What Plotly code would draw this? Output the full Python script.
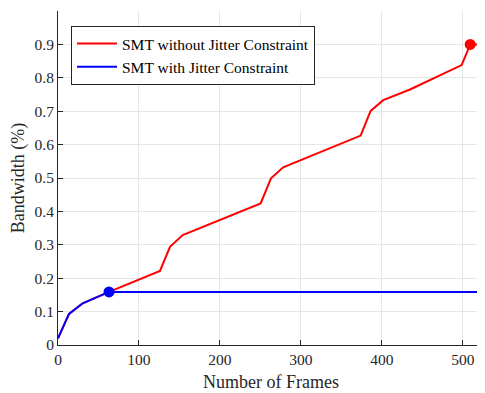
import plotly.graph_objects as go

red_x = [0, 13.6, 30.5, 63, 125.9, 138.3, 154, 250.2, 263, 278, 373.7, 386, 401.6, 434.6, 498.4, 509, 526]
red_y = [0.02, 0.093, 0.125, 0.159, 0.2216, 0.294, 0.329, 0.424, 0.499, 0.532, 0.627, 0.701, 0.733, 0.765, 0.838, 0.9, 0.9]
blue_x = [0, 13.6, 30.5, 63, 526]
blue_y = [0.02, 0.093, 0.125, 0.159, 0.159]
red_marker = [509, 0.9]
blue_marker = [63, 0.159]

xticks = [0, 100, 200, 300, 400, 500]
yticks = [0, 0.1, 0.2, 0.3, 0.4, 0.5, 0.6, 0.7, 0.8, 0.9, 1]
ytick_labels = ["0", "0.1", "0.2", "0.3", "0.4", "0.5", "0.6", "0.7", "0.8", "0.9", "1"]

fig = go.Figure()
fig.add_trace(go.Scatter(x=red_x, y=red_y, mode="lines", line=dict(color="#ff0000", width=2),
                         name="SMT without Jitter Constraint"))
fig.add_trace(go.Scatter(x=blue_x, y=blue_y, mode="lines", line=dict(color="#0000ff", width=2),
                         name="SMT with Jitter Constraint"))
fig.add_trace(go.Scatter(x=[red_marker[0]], y=[red_marker[1]], mode="markers",
                         marker=dict(color="#ff0000", size=11), showlegend=False))
fig.add_trace(go.Scatter(x=[blue_marker[0]], y=[blue_marker[1]], mode="markers",
                         marker=dict(color="#0000ff", size=11), showlegend=False))

font = "Liberation Serif"
fig.update_layout(
    width=477, height=385,
    margin=dict(l=50, r=1, t=3, b=48),
    plot_bgcolor="white", paper_bgcolor="white",
    font=dict(family=font, size=15, color="#262626"),
    legend=dict(x=0.0305, y=0.955, xanchor="left", yanchor="top",
                bgcolor="white", bordercolor="#262626", borderwidth=1,
                font=dict(family=font, size=15.5, color="#000000"),
                tracegroupgap=0, itemwidth=40),
    xaxis=dict(range=[0, 526], tickvals=xticks, showgrid=True, gridcolor="#e6e6e6",
               zeroline=False, showline=True, linecolor="#262626", linewidth=1,
               ticks="inside", ticklen=5, tickcolor="#262626", automargin=False,
               title=dict(text="Number of Frames", standoff=8), tickfont=dict(size=15.5)),
    yaxis=dict(range=[0, 1], tickvals=yticks, ticktext=ytick_labels, showgrid=True,
               gridcolor="#e6e6e6", zeroline=False, showline=True, linecolor="#262626",
               linewidth=1, ticks="inside", ticklen=5, tickcolor="#262626", automargin=False,
               title=dict(text="Bandwidth (%)", standoff=6), tickfont=dict(size=15.5)),
)
fig.write_html("out.html")
